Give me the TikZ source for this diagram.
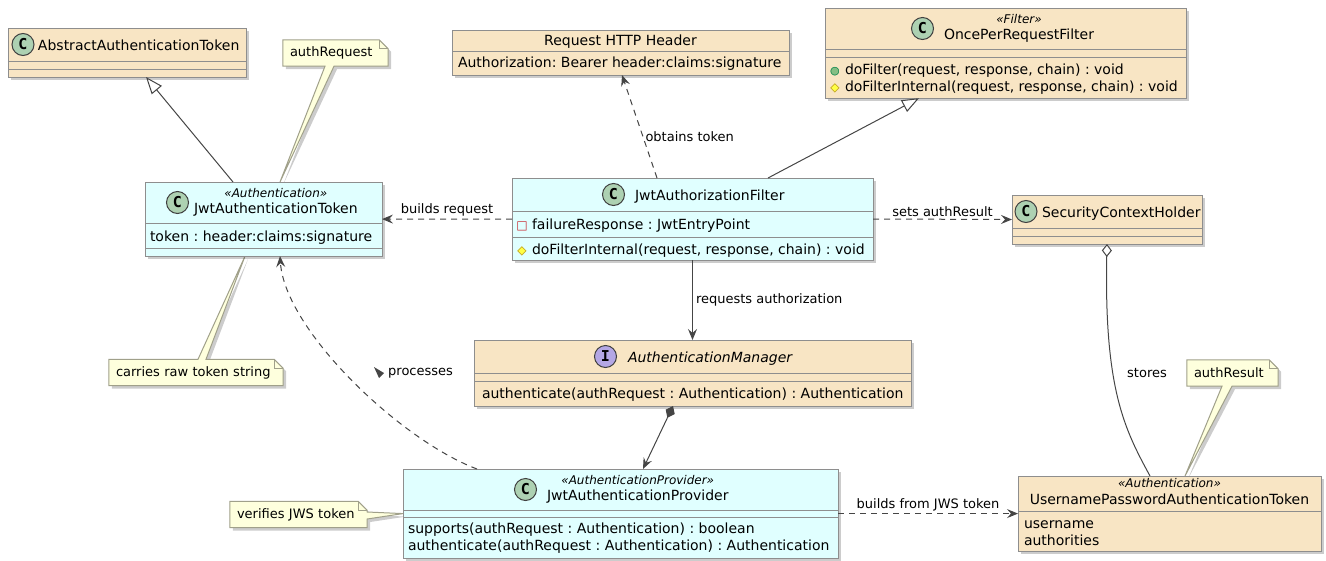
\documentclass[tikz,border=0pt]{standalone}
\usepackage{fontspec}
\setmainfont{DejaVu Sans}
\newfontfamily\spotfont{DejaVu Sans Mono}
\usepackage{colortbl}
\usepackage{tikz}
\usetikzlibrary{arrows.meta,positioning,shadows,backgrounds}

\definecolor{clsfill}{HTML}{F8E5C4}
\definecolor{jwtfill}{HTML}{E0FFFF}
\definecolor{clsline}{HTML}{8E8E8E}
\definecolor{notefill}{HTML}{FEFFDD}
\definecolor{noteline}{HTML}{A0A08A}
\definecolor{spotC}{HTML}{ADD1B2}
\definecolor{spotI}{HTML}{B4A7E5}
\definecolor{spotline}{HTML}{404040}
\definecolor{linkline}{HTML}{454545}
\definecolor{pubfill}{HTML}{84BE84}
\definecolor{publine}{HTML}{038048}
\definecolor{protfill}{HTML}{FFFF44}
\definecolor{protline}{HTML}{B38D22}
\definecolor{privline}{HTML}{C82930}

\frenchspacing
\newcommand{\clsfont}{\fontsize{14}{17}\selectfont}
\newcommand{\lblfont}{\fontsize{13}{15}\selectfont}
\newcommand{\stereo}[1]{{\fontsize{12}{14}\selectfont\itshape «#1»}}
\newcommand{\st}[2]{\rule[-#2pt]{0pt}{\dimexpr#1pt+#2pt\relax}}
\newcommand{\pubmark}{\makebox[10pt]{\fontsize{11}{11}\selectfont\rlap{\textcolor{pubfill}{●}}\textcolor{publine}{○}}}
\newcommand{\protmark}{\makebox[10pt]{\fontsize{12}{12}\selectfont\rlap{\textcolor{protfill}{◆}}\textcolor{protline}{◇}}}
\newcommand{\privmark}{\makebox[10pt]{\fontsize{12}{12}\selectfont\textcolor{privline}{□}}}
\renewcommand{\arraystretch}{0}
\setlength{\arrayrulewidth}{1pt}
\arrayrulecolor{clsline}

\tikzset{
  cls/.style={draw=clsline, fill=clsfill, line width=1pt, inner sep=0pt, outer sep=0pt,
    anchor=north west, font=\clsfont,
    drop shadow={shadow xshift=3pt, shadow yshift=-3pt, fill=black, opacity=.2}},
  jwt/.style={cls, fill=jwtfill},
  spot/.style={circle, draw=spotline, fill=#1, line width=1pt, minimum size=22pt, inner sep=0pt,
    font=\spotfont\bfseries\fontsize{15}{15}\selectfont},
  notebox/.style={font=\lblfont, inner xsep=7pt, inner ysep=0pt, minimum height=26pt, align=left},
  notepath/.style={fill=notefill, draw=noteline, line width=1pt,
    drop shadow={shadow xshift=3pt, shadow yshift=-3pt, fill=black, opacity=.2}},
  lbl/.style={font=\lblfont, inner sep=1pt},
  link/.style={draw=linkline, line width=1pt},
  dep/.style={link, dash pattern=on 6pt off 5pt, ->},
  gen/.style={link, -{Triangle[open, fill=white, length=17pt, width=13pt]}},
  agg/.style={link, {Diamond[open, fill=white, length=13pt, width=10pt]}-},
  comp/.style={link, {Diamond[length=13pt, width=10pt]}->}
}

\begin{document}
\begin{tikzpicture}[x=1pt, y=-1pt, >={Stealth[length=11pt, width=9pt, inset=4pt]}]
\useasboundingbox (0,0) rectangle (1326,560);

    \node[cls] (aat) at (8,28) {\begin{tabular}{@{}p{238pt}@{}}
      \multicolumn{1}{@{}l@{}}{\hspace*{30pt}\st{22}{11}AbstractAuthenticationToken}\\\hline
      \st{7}{0}\\\hline
      \st{7}{0}
    \end{tabular}};
    \node[jwt] (jat) at (145,182) {\begin{tabular}{@{}p{237pt}@{}}
      \multicolumn{1}{@{}l@{}}{\hspace*{49pt}\begin{tabular}[b]{@{}c@{}}\st{15}{0}\stereo{Authentication}\\\st{16}{10}JwtAuthenticationToken\end{tabular}}\\\hline
      \st{17}{7}\hspace*{5pt}token : header:claims:signature\\\hline
      \st{7}{0}
    \end{tabular}};
    \node[cls] (rhh) at (452,30) {\begin{tabular}{@{}p{337pt}@{}}
      \multicolumn{1}{@{}c@{}}{\st{15}{6}Request HTTP Header}\\\hline
      \st{15}{8}\hspace*{6pt}Authorization: Bearer header:claims:signature
    \end{tabular}};
    \node[cls] (oprf) at (825,8) {\begin{tabular}{@{}p{361pt}@{}}
      \multicolumn{1}{@{}l@{}}{\hspace*{119pt}\begin{tabular}[b]{@{}c@{}}\st{15}{0}\stereo{Filter}\\\st{16}{10}OncePerRequestFilter\end{tabular}}\\\hline
      \st{7}{0}\\\hline
      \st{16}{0}\hspace*{5pt}\pubmark\hspace{5pt}doFilter(request, response, chain) : void\newline
      \hspace*{5pt}\protmark\hspace{5pt}doFilterInternal(request, response, chain) : void\st{0}{7}
    \end{tabular}};
    \node[jwt] (jaf) at (512,178) {\begin{tabular}{@{}p{361pt}@{}}
      \multicolumn{1}{@{}l@{}}{\hspace*{123pt}\st{22}{11}JwtAuthorizationFilter}\\\hline
      \st{17}{8}\hspace*{5pt}\privmark\hspace{5pt}failureResponse : JwtEntryPoint\\\hline
      \st{16}{6}\hspace*{5pt}\protmark\hspace{5pt}doFilterInternal(request, response, chain) : void
    \end{tabular}};
    \node[cls] (sch) at (1012,195) {\begin{tabular}{@{}p{190pt}@{}}
      \multicolumn{1}{@{}l@{}}{\hspace*{30pt}\st{22}{11}SecurityContextHolder}\\\hline
      \st{7}{0}\\\hline
      \st{7}{0}
    \end{tabular}};
    \node[cls] (am) at (474,340) {\begin{tabular}{@{}p{437pt}@{}}
      \multicolumn{1}{@{}l@{}}{\hspace*{154pt}\st{22}{11}\textit{AuthenticationManager}}\\\hline
      \st{7}{0}\\\hline
      \st{16}{8}\hspace*{8pt}authenticate(authRequest : Authentication) : Authentication
    \end{tabular}};
    \node[jwt] (jap) at (403,469) {\begin{tabular}{@{}p{435pt}@{}}
      \multicolumn{1}{@{}l@{}}{\hspace*{144pt}\begin{tabular}[b]{@{}c@{}}\st{15}{0}\stereo{AuthenticationProvider}\\\st{16}{10}JwtAuthenticationProvider\end{tabular}}\\\hline
      \st{6}{0}\\\hline
      \st{15}{0}\hspace*{5pt}supports(authRequest : Authentication) : boolean\newline
      \hspace*{5pt}authenticate(authRequest : Authentication) : Authentication\st{0}{8}
    \end{tabular}};
    \node[cls] (upat) at (1018,476) {\begin{tabular}{@{}p{303pt}@{}}
      \multicolumn{1}{@{}c@{}}{\begin{tabular}[b]{@{}c@{}}\st{11}{0}\stereo{Authentication}\\\st{17}{7}UsernamePasswordAuthenticationToken\end{tabular}}\\\hline
      \st{16}{0}\hspace*{6pt}username\newline
      \hspace*{6pt}authorities\st{0}{6}
    \end{tabular}};

    \node[spot=spotC] (aat-c) at (23,44.5) {C};
    \node[spot=spotC] (jat-c) at (177.5,202.5) {C};
    \node[spot=spotC] (oprf-c) at (922.5,28.5) {C};
    \node[spot=spotC] (jaf-c) at (613.5,194.5) {C};
    \node[spot=spotC] (sch-c) at (1026,211.5) {C};
    \node[spot=spotI] (am-c) at (605.5,356.5) {I};
    \node[spot=spotC] (jap-c) at (525.5,489.5) {C};

    \node[notebox, text width=91pt] (nar) at (335.5,53) {authRequest};
    \node[notebox, text width=160pt] (nraw) at (196,372.5) {carries raw token string};
    \node[notebox, text width=123pt] (njws) at (298.5,514.5) {verifies JWS token};
    \node[notebox, text width=77pt] (nres) at (1232.5,373) {authResult};

\begin{scope}[on background layer]
    \filldraw[notepath] (nar.south west) -- (nar.north west) -- ([xshift=-9pt]nar.north east)
      -- ([yshift=-9pt]nar.north east) -- (nar.south east) -- ([xshift=-1.5pt]nar.south)
      -- ([xshift=16.5pt]jat.north) -- ([xshift=-10.5pt]nar.south) -- cycle;
    \filldraw[notepath] (nraw.south west) -- (nraw.north west) -- ([xshift=2pt]nraw.north)
      -- ([xshift=-18.5pt]jat.south) -- ([xshift=10pt]nraw.north) -- ([xshift=-9pt]nraw.north east)
      -- ([yshift=-9pt]nraw.north east) -- (nraw.south east) -- cycle;
    \filldraw[notepath] (njws.south west) -- (njws.north west) -- ([xshift=-9pt]njws.north east)
      -- ([yshift=-9pt]njws.north east) -- ([yshift=2.5pt]njws.east) -- (jap.west)
      -- ([yshift=-4.5pt]njws.east) -- (njws.south east) -- cycle;
    \filldraw[notepath] (nres.south west) -- (nres.north west) -- ([xshift=-9pt]nres.north east)
      -- ([yshift=-9pt]nres.north east) -- (nres.south east) -- ([xshift=-0.5pt]nres.south)
      -- ([xshift=15.5pt]upat.north) -- ([xshift=-10.5pt]nres.south) -- cycle;
    \foreach \n in {nar,nraw,njws,nres}
      \draw[noteline, line width=1pt] ([xshift=-9pt]\n.north east) |- ([yshift=-9pt]\n.north east);
\end{scope}

    \draw[gen] ([xshift=-30.5pt]jat.north) -- ([xshift=19pt]aat.south);
    \draw[gen] ([xshift=75.5pt]jaf.north) -- ([xshift=-86.5pt]oprf.south);
    \draw[dep] ([xshift=-35.5pt]jaf.north) -- node[lbl, pos=.4, right=1pt] {obtains token} ([xshift=1.5pt]rhh.south);
    \draw[dep] (jaf.west) -- node[lbl, above=1pt] {builds request} (jat.east);
    \draw[dep] (jaf.east) -- node[lbl, above=1pt] {sets authResult} (sch.west);
    \draw[agg, ->] (jaf.south) -- node[lbl, right=2pt] {requests authorization} (am.north);
    \draw[comp] ([xshift=-19.5pt]am.south) -- ([xshift=22.5pt]jap.north);
    \draw[dep] ([xshift=-143.5pt]jap.north) .. controls (400,440) and (285,330) .. ([xshift=16.5pt]jat.south);
    \node[lbl, anchor=west] (lproc) at (387,373) {processes};
    \fill[linkline] ([shift={(-13,-6)}]lproc.west) -- ([shift={(-3,0)}]lproc.west) -- ([shift={(-8,5)}]lproc.west) -- cycle;
    \draw[dep] (jap.east) -- node[lbl, above=1pt] {builds from JWS token} (upat.west);
    \draw[agg] (sch.south) .. controls (1104,390) and (1125,430) .. ([xshift=-19.5pt]upat.north);
    \node[lbl] (lstore) at (1147,373) {stores};
\end{tikzpicture}
\end{document}
